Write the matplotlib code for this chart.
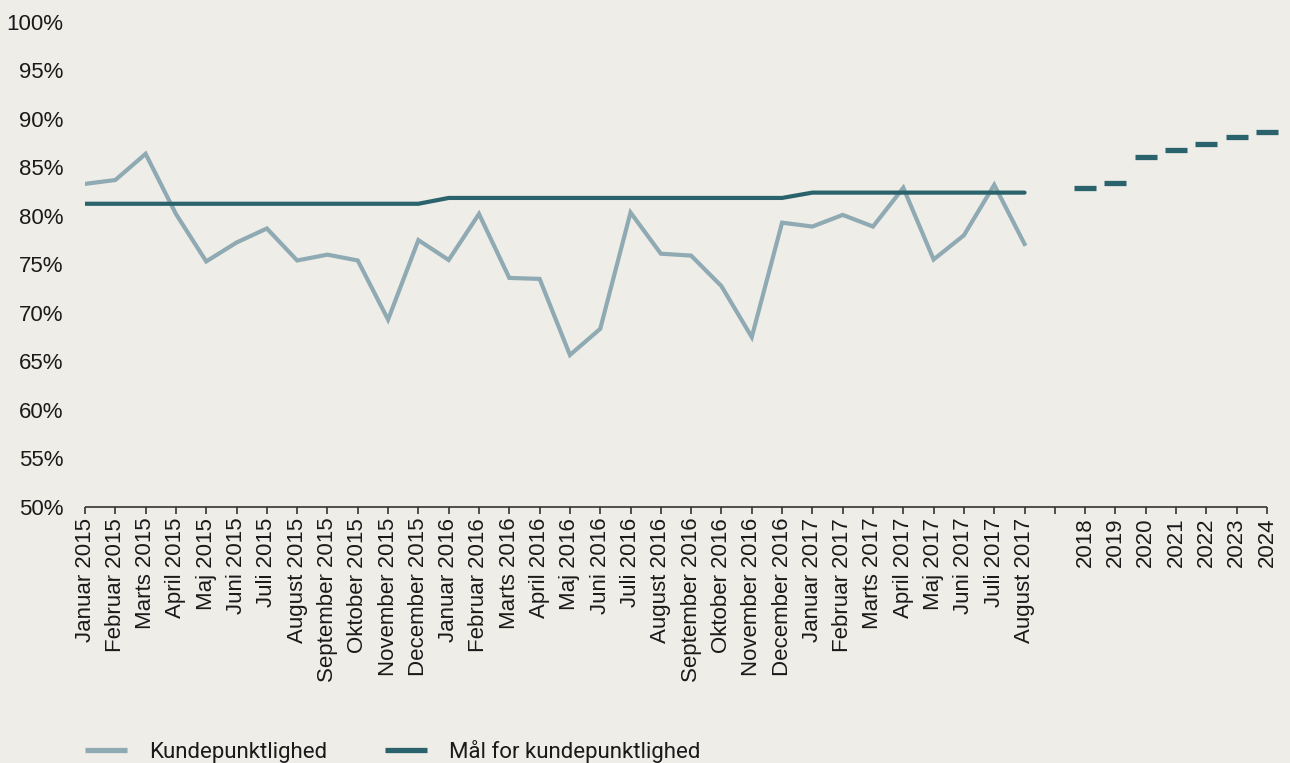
import numpy as np
import matplotlib
matplotlib.use("Agg")
import matplotlib.pyplot as plt
from matplotlib.lines import Line2D

months = ["Januar", "Februar", "Marts", "April", "Maj", "Juni", "Juli", "August",
          "September", "Oktober", "November", "December"]
month_labels = [f"{m} {y}" for y in (2015, 2016, 2017) for m in months][:32]
year_labels = ["2018", "2019", "2020", "2021", "2022", "2023", "2024"]
categories = month_labels + [""] + year_labels

kundepunktlighed = [83.3, 83.7, 86.4, 80.2, 75.3, 77.25, 78.7, 75.4, 76.0, 75.4, 69.3, 77.5,
                    75.45, 80.2, 73.6, 73.5, 65.65, 68.35, 80.35, 76.1, 75.9, 72.75, 67.5, 79.3,
                    78.9, 80.1, 78.9, 82.9, 75.5, 78.0, 83.2, 77.1]
maal_monthly = [81.25] * 12 + [81.85] * 12 + [82.4] * 8
maal_years = [82.85, 83.35, 86.05, 86.75, 87.4, 88.1, 88.65]

yticks = list(range(50, 101, 5))

bg = "#EEEDE8"
light = "#8FAAB2"
dark = "#2A636B"
txt = "#1a1a1a"

plt.rcParams['font.family'] = ['Liberation Sans', 'DejaVu Sans']

fig = plt.figure(figsize=(12.9, 7.63), dpi=100, facecolor=bg)
ax = fig.add_axes([85/1290, 1 - 506.7/763, (1267-85)/1290, (506.7-22)/763])
ax.set_facecolor(bg)

x = np.arange(len(categories))
n_m = len(month_labels)
ax.plot(x[:n_m], kundepunktlighed, color=light, lw=3.0, solid_joinstyle='miter', zorder=2)
ax.plot(x[:n_m], maal_monthly, color=dark, lw=3.0, solid_capstyle='round', zorder=3)
ax.plot(x[n_m + 1:], maal_years, linestyle='none', marker='_', color=dark,
        markersize=15.7, markeredgewidth=3.8, zorder=3, clip_on=False)

ax.set_xlim(0, len(categories) - 1)
ax.set_ylim(50, 100)
ax.set_yticks(yticks)
ax.set_yticklabels([f"{v}%" for v in yticks], fontsize=16, color=txt)
ax.set_xticks(x)
ax.set_xticklabels(categories, rotation=90, fontsize=16, color=txt)
ax.tick_params(axis='y', length=0, pad=15.5)
ax.tick_params(axis='x', length=5, width=1.2, color="#333333", pad=3)
for s in ("top", "right", "left"):
    ax.spines[s].set_visible(False)
ax.spines["bottom"].set_color("#333333")
ax.spines["bottom"].set_linewidth(1.2)
ax.spines["bottom"].set_capstyle('butt')

handles = [Line2D([], [], color=light, lw=3.8, solid_capstyle='butt'),
           Line2D([], [], color=dark, lw=3.8, solid_capstyle='butt')]
leg = fig.legend(handles, ["Kundepunktlighed", "Mål for kundepunktlighed"],
                 loc="lower left", bbox_to_anchor=(76/1290, -0.011), ncol=2, frameon=False,
                 handlelength=1.88, handletextpad=1.0, columnspacing=2.6,
                 borderpad=0.4, borderaxespad=0.0,
                 prop={'family': ['Roboto', 'DejaVu Sans'], 'size': 16})
for t in leg.get_texts():
    t.set_color(txt)

fig.savefig("out.png", dpi=100, facecolor=bg)
